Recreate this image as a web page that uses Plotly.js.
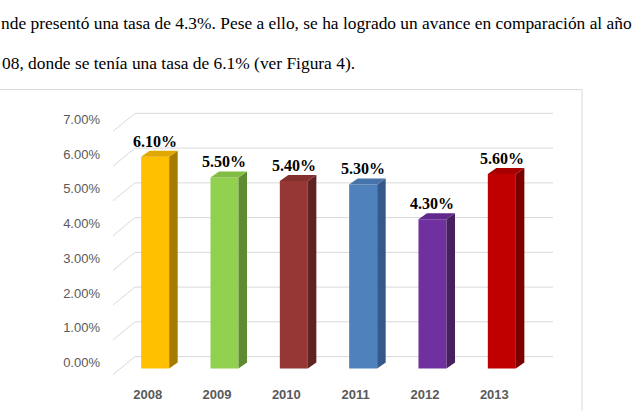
<!DOCTYPE html>
<html>
<head>
<meta charset="utf-8">
<script src="https://cdn.plot.ly/plotly-3.0.1.min.js"></script>
<style>
  html, body { margin: 0; padding: 0; background: #fff; }
  #chart { width: 640px; height: 411px; }
</style>
</head>
<body>
<div id="chart"></div>
<script>
// values
var years = ['2008', '2009', '2010', '2011', '2012', '2013'];
var rates = [6.1, 5.5, 5.4, 5.3, 4.3, 5.6];
var yTicks = [0, 1, 2, 3, 4, 5, 6, 7];
var yTickText = ['0.00%', '1.00%', '2.00%', '3.00%', '4.00%', '5.00%', '6.00%', '7.00%'];
var frontColors = ['#FFC000', '#92D050', '#953735', '#4F81BD', '#7030A0', '#C00000'];
var sideColors = ['#A67C00', '#5F8A32', '#5F2321', '#35598A', '#47205F', '#7A0000'];
var topColors = ['#E0A800', '#82BC45', '#83302E', '#4673A9', '#62298C', '#A80000'];
var paragraph = [
    'nde presentó una tasa de 4.3%. Pese a ello, se ha logrado un avance en comparación al año',
    '08, donde se tenía una tasa de 6.1% (ver Figura 4).'
];

// geometry of the fake 3d look
var W = 640, H = 411;
var mL = 113, mR = 111, mT = 107.5, mB = 31.5;
var plotW = W - mL - mR, plotH = H - mT - mB;
var barOffset = -0.094, barWidth = 0.404;
var depthX = 0.123, depthY = 0.172;

function paperX(px) { return (px - mL) / plotW; }
function paperY(py) { return (H - mB - py) / plotH; }

var xIdx = years.map(function (y, i) { return i; });

var bars = {
    type: 'bar',
    x: xIdx,
    y: rates,
    width: barWidth,
    offset: barOffset,
    marker: { color: frontColors, line: { width: 0 } },
    hoverinfo: 'none'
};

var shapes = [];

// back wall gridlines with the slanted floor part on the left
yTicks.forEach(function (v) {
    shapes.push({
        type: 'path',
        xref: 'paper', yref: 'y',
        ysizemode: 'pixel', yanchor: v,
        path: 'M 0,-6 L ' + paperX(135) + ',12 L ' + paperX(553) + ',12',
        line: { color: '#D9D9D9', width: 1 },
        layer: 'below'
    });
});

// side and top faces of every bar
rates.forEach(function (v, i) {
    var xl = i + barOffset, xr = xl + barWidth;
    shapes.push({
        type: 'path', xref: 'x', yref: 'y',
        path: 'M ' + xr + ',0 L ' + (xr + depthX) + ',' + depthY +
              ' L ' + (xr + depthX) + ',' + (v + depthY) + ' L ' + xr + ',' + v + ' Z',
        fillcolor: sideColors[i], line: { width: 0 }, layer: 'above'
    });
    shapes.push({
        type: 'path', xref: 'x', yref: 'y',
        path: 'M ' + xl + ',' + v + ' L ' + (xl + depthX) + ',' + (v + depthY) +
              ' L ' + (xr + depthX) + ',' + (v + depthY) + ' L ' + xr + ',' + v + ' Z',
        fillcolor: topColors[i], line: { width: 0 }, layer: 'above'
    });
});

// chart frame
shapes.push({
    type: 'rect', xref: 'paper', yref: 'paper',
    x0: paperX(-5), x1: paperX(582), y0: paperY(420), y1: paperY(89),
    line: { color: '#D9D9D9', width: 1 }, fillcolor: 'rgba(0,0,0,0)', layer: 'below'
});

var annotations = rates.map(function (v, i) {
    return {
        x: i + barOffset + barWidth / 2, y: v,
        xref: 'x', yref: 'y',
        text: v.toFixed(2) + '%',
        showarrow: false,
        yanchor: 'bottom', yshift: 5,
        font: { family: 'Liberation Serif', size: 16, color: '#000', weight: 'bold' }
    };
});

// body text above the figure
annotations.push({
    xref: 'paper', yref: 'paper', x: paperX(-1), y: paperY(22),
    xanchor: 'left', yanchor: 'middle', showarrow: false,
    text: paragraph[0],
    font: { family: 'Liberation Serif', size: 17.4, color: '#000' }
});
annotations.push({
    xref: 'paper', yref: 'paper', x: paperX(0), y: paperY(62),
    xanchor: 'left', yanchor: 'middle', showarrow: false,
    text: paragraph[1],
    font: { family: 'Liberation Serif', size: 17.4, color: '#000' }
});

var layout = {
    width: W, height: H,
    margin: { l: mL, r: mR, t: mT, b: mB, pad: 0 },
    paper_bgcolor: '#fff', plot_bgcolor: 'rgba(0,0,0,0)',
    showlegend: false,
    xaxis: {
        range: [-0.5, 5.5],
        tickvals: xIdx, ticktext: years,
        showgrid: false, zeroline: false, showline: false, ticks: '',
        ticklabelstandoff: 6,
        tickfont: { family: 'Liberation Sans', size: 13, color: '#595959', weight: 'bold' },
        fixedrange: true
    },
    yaxis: {
        range: [-0.3, 7.5],
        tickvals: yTicks, ticktext: yTickText,
        showgrid: false, zeroline: false, showline: false, ticks: '',
        ticklabelstandoff: 12, ticklabelshift: -6,
        tickfont: { family: 'Liberation Sans', size: 13, color: '#595959' },
        fixedrange: true
    },
    shapes: shapes,
    annotations: annotations
};

Plotly.newPlot('chart', [bars], layout, { displayModeBar: false, staticPlot: true });
</script>
</body>
</html>
